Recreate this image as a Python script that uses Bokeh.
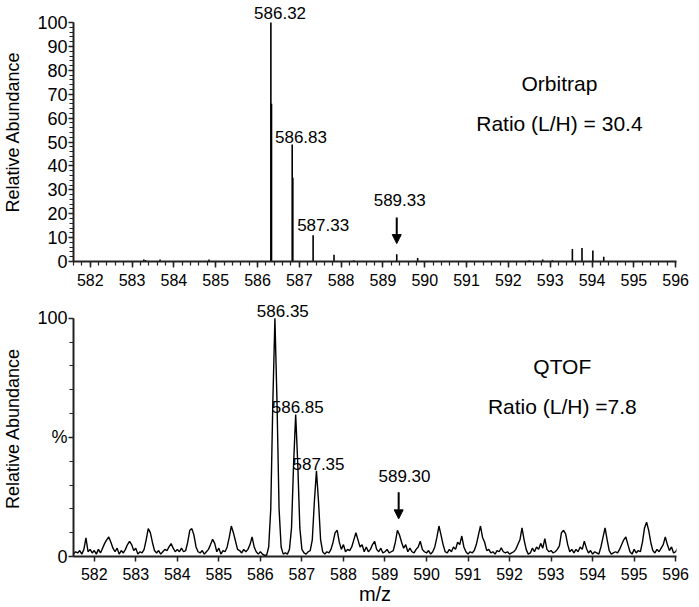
from bokeh.plotting import figure
from bokeh.layouts import column
from bokeh.models import (Label, Arrow, NormalHead, FixedTicker, SingleIntervalTicker, Range1d)
from bokeh.embed import file_html
from bokeh.resources import INLINE

FONT = "Liberation Sans"

# ---------------- Orbitrap (top) stick data ----------------
orbi_mz = [583.28, 583.32, 583.67, 584.84, 586.32, 586.335, 586.83, 586.845, 587.33,
           587.83, 588.30, 589.33, 589.83, 592.50, 592.82, 593.05,
           593.53, 593.76, 594.02, 594.28]
orbi_ab = [0.8, 0.6, 0.8, 0.8, 100, 66, 49, 35, 11,
           2.8, 0.5, 3.0, 1.5, 0.5, 0.8, 0.5,
           5.2, 5.6, 4.6, 2.0]

# ---------------- QTOF (bottom) profile data, sampled every 0.05 m/z from 581.50 ----------------
qtof_start = 581.50
qtof_step = 0.05
qtof_ab = [
    # 581.50 - 581.95
    1, 2, 1.5, 2.5, 1, 3, 7.8, 2, 3, 1.5,
    # 582
    2.5, 1, 3, 1.5, 3.5, 5.5, 7, 8.2, 6, 3.5, 2, 3.5, 1, 2.5, 1.5, 3, 5, 6.4, 5, 2.5,
    # 583
    3.5, 1, 2, 1.5, 3, 7, 11.7, 10, 6, 2.5, 1.5, 2.5, 1, 2, 3, 2.5, 4, 5.4, 3.5, 2,
    # 584
    3, 2, 3.5, 2, 2.5, 6, 11, 11.7, 9, 4, 2, 1.5, 2.5, 1, 2, 3, 5, 7.2, 5.5, 2,
    # 585
    3.5, 1, 2.5, 2, 4, 8, 12.8, 10, 6.5, 3, 2.5, 1.5, 3, 2, 3, 5, 8.2, 4, 2, 1,
    # 586
    2, 1, 0.5, 0.5, 4, 20, 65, 100, 65, 20, 4, 1, 1.5, 1, 3, 12, 39, 59.6, 39, 12,
    # 587
    3, 1.5, 1, 2, 2.5, 7, 23, 36, 23, 7, 2, 1, 2, 1.5, 3, 6, 10, 11, 6, 3,
    # 588
    5, 2, 3, 2.5, 4, 7, 10, 7, 4, 5, 2, 4, 2, 3, 5, 6.4, 3, 2, 3.5, 1.5,
    # 589
    2, 3, 1.5, 2, 2.5, 6, 11, 9, 6, 3.5, 5, 2, 3.5, 2, 1.5, 3, 4, 6.4, 3, 2,
    # 590
    1.5, 2.5, 1, 2, 4, 8, 12.8, 9, 5, 2, 1.5, 3, 2, 4, 3, 6, 5, 8.6, 4, 2,
    # 591
    1, 2, 1.5, 2.5, 5, 9, 12.8, 8, 6, 2.5, 3, 1.5, 2, 1, 2.5, 2, 3.6, 2, 1.5, 2,
    # 592
    1, 1.5, 2, 3, 5, 7, 12, 7, 3, 1, 1.5, 3.5, 2, 4, 3, 5.5, 3.5, 7.5, 3, 2,
    # 593
    2.5, 1.5, 2, 3, 4.5, 10, 11, 9.5, 5, 2, 3, 1.5, 3, 2, 4, 3, 6.4, 3.5, 1.5, 2.5,
    # 594
    1, 2, 1.5, 1, 4, 8, 12, 7, 2.5, 1, 1.5, 2, 1.5, 3, 5, 7, 8.2, 5, 2, 1,
    # 595
    3, 1.5, 2.5, 2, 6, 12, 14.4, 11, 6, 2.5, 1.5, 3, 2, 3.5, 5, 8.2, 5, 2.5, 4, 1.5,
    # 596
    2, 3.5,
]
qtof_mz = [round(qtof_start + qtof_step * i, 2) for i in range(len(qtof_ab))]

# ---------------- annotations ----------------
top_labels = ["586.32", "586.83", "587.33", "589.33"]
top_label_x = [586.54, 587.04, 587.57, 589.40]
top_label_y = [103.8, 51.9, 15.1, 25.9]
top_arrow = (589.33, 18.4, 7.5)

bot_labels = ["586.35", "586.85", "587.35", "589.30"]
bot_label_x = [586.54, 586.90, 587.40, 589.47]
bot_label_y = [103.3, 62.9, 38.75, 33.75]
bot_arrow = (589.33, 27.0, 15.8)

top_titles = ["Orbitrap", "Ratio (L/H) = 30.4"]
top_title_y = [74.5, 57.7]
top_title_x = 593.22
bot_titles = ["QTOF", "Ratio (L/H) =7.8"]
bot_title_y = [79.6, 62.9]
bot_title_x = 593.27

AXIS_COLOR = "#222222"


def style_axes(p):
    p.grid.visible = False
    p.outline_line_color = None
    p.background_fill_color = "white"
    p.border_fill_color = "white"
    for ax in (p.xaxis[0], p.yaxis[0]):
        ax.axis_line_color = AXIS_COLOR
        ax.axis_line_width = 2
        ax.major_tick_line_color = AXIS_COLOR
        ax.minor_tick_line_color = AXIS_COLOR
        ax.major_tick_line_width = 1.5
        ax.minor_tick_line_width = 1.2
        ax.major_tick_in = 0
        ax.minor_tick_in = 0
        ax.major_label_text_font = FONT
        ax.major_label_text_color = "black"
        ax.axis_label_text_font = FONT
        ax.axis_label_text_font_style = "normal"
        ax.axis_label_text_color = "black"
    p.xaxis.major_label_text_font_size = "16px"
    p.yaxis.major_label_text_font_size = "18px"
    p.xaxis.major_label_standoff = 6
    p.yaxis.major_label_standoff = 1
    p.yaxis.axis_label = "Relative Abundance"
    p.yaxis.axis_label_text_font_size = "18px"
    p.yaxis.axis_label_standoff = 11
    p.yaxis.bounds = (0, 100)


def add_text(p, txt, x, y, size):
    p.add_layout(Label(x=x, y=y, text=txt, text_font=FONT, text_font_size=size,
                       text_color="black", text_align="center", text_baseline="middle"))


# ---------------- top figure ----------------
top = figure(width=699, height=298, output_backend="svg", toolbar_location=None,
             x_range=Range1d(581.6, 596.02), y_range=Range1d(0, 108.4),
             min_border_left=72, min_border_right=23, min_border_top=2, min_border_bottom=37)
style_axes(top)
top.xaxis.ticker = SingleIntervalTicker(interval=1, num_minor_ticks=5)
top.xaxis.major_tick_out = 6
top.xaxis.minor_tick_out = 4
top.yaxis.ticker = FixedTicker(ticks=list(range(0, 101, 10)), minor_ticks=list(range(0, 101, 2)))
top.yaxis.major_tick_out = 5
top.yaxis.minor_tick_out = 4

top.segment(x0=orbi_mz, y0=[0] * len(orbi_mz), x1=orbi_mz, y1=orbi_ab,
            line_color="black", line_width=1.6)

for t, x, y in zip(top_labels, top_label_x, top_label_y):
    add_text(top, t, x, y, "17px")
for t, y in zip(top_titles, top_title_y):
    add_text(top, t, top_title_x, y, "21px")
top.add_layout(Arrow(end=NormalHead(size=9, fill_color="black", line_color="black"),
                     x_start=top_arrow[0], y_start=top_arrow[1],
                     x_end=top_arrow[0], y_end=top_arrow[2],
                     line_color="black", line_width=2))

# ---------------- bottom figure ----------------
bot = figure(width=699, height=309, output_backend="svg", toolbar_location=None,
             x_range=Range1d(581.5, 596.02), y_range=Range1d(0, 107.5),
             min_border_left=72, min_border_right=19, min_border_top=2, min_border_bottom=49)
style_axes(bot)
bot.xaxis.ticker = FixedTicker(ticks=list(range(582, 597)), minor_ticks=[])
bot.xaxis.major_tick_out = 5
bot.xaxis.axis_label = "m/z"
bot.xaxis.axis_label_text_font_size = "20px"
bot.xaxis.axis_label_standoff = 0
bot.yaxis.ticker = FixedTicker(ticks=[0, 50, 100], minor_ticks=list(range(0, 101, 10)))
bot.yaxis.major_label_overrides = {50: "%"}
bot.yaxis.major_tick_out = 5
bot.yaxis.minor_tick_out = 4

bot.line(qtof_mz, qtof_ab, line_color="black", line_width=1.4)

for t, x, y in zip(bot_labels, bot_label_x, bot_label_y):
    add_text(bot, t, x, y, "17px")
for t, y in zip(bot_titles, bot_title_y):
    add_text(bot, t, bot_title_x, y, "21px")
bot.add_layout(Arrow(end=NormalHead(size=9, fill_color="black", line_color="black"),
                     x_start=bot_arrow[0], y_start=bot_arrow[1],
                     x_end=bot_arrow[0], y_end=bot_arrow[2],
                     line_color="black", line_width=2))

layout = column(top, bot, spacing=0)
open("out.html", "w").write(file_html(layout, INLINE))
